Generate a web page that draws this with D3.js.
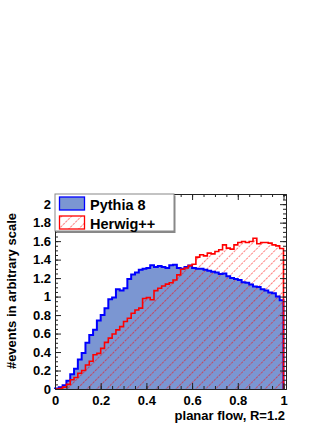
<!DOCTYPE html>
<html>
<head>
<meta charset="utf-8">
<script src="https://cdn.jsdelivr.net/npm/d3@7"></script>
<style>
  body { margin: 0; background: #fff; }
  text { font-family: "Liberation Sans", Arial, sans-serif; font-weight: bold; }
</style>
</head>
<body>
<div id="chart"></div>
<script>
// 60 bins over planar flow 0..1
const binCount = 60;

const pythia = [
  0.005, 0.02, 0.04, 0.09, 0.16, 0.22, 0.32, 0.39, 0.50, 0.585,
  0.64, 0.74, 0.80, 0.875, 0.97, 0.99, 1.08, 1.065, 1.09, 1.19,
  1.24, 1.26, 1.29, 1.30, 1.31, 1.34, 1.32, 1.33, 1.32, 1.31,
  1.34, 1.345, 1.31, 1.30, 1.32, 1.335, 1.31, 1.30, 1.30, 1.29,
  1.28, 1.27, 1.26, 1.245, 1.25, 1.22, 1.20, 1.19, 1.18, 1.155,
  1.15, 1.13, 1.11, 1.105, 1.08, 1.065, 1.045, 1.035, 1.00, 0.96
];

const herwig = [
  0.0, 0.005, 0.02, 0.05, 0.10, 0.125, 0.17, 0.20, 0.26, 0.30,
  0.37, 0.385, 0.44, 0.505, 0.55, 0.595, 0.64, 0.675, 0.73, 0.765,
  0.82, 0.855, 0.875, 0.98, 0.99, 0.965, 1.065, 1.09, 1.115, 1.135,
  1.15, 1.18, 1.235, 1.295, 1.31, 1.335, 1.35, 1.427, 1.452, 1.441,
  1.47, 1.462, 1.488, 1.506, 1.56, 1.524, 1.514, 1.56, 1.585, 1.596,
  1.585, 1.596, 1.632, 1.571, 1.585, 1.585, 1.578, 1.56, 1.549, 1.52
];

const xTicks = [0, 0.2, 0.4, 0.6, 0.8, 1];
const yTicks = [0, 0.2, 0.4, 0.6, 0.8, 1, 1.2, 1.4, 1.6, 1.8, 2];
const legendLabels = ["Pythia 8", "Herwig++"];

const width = 332, height = 430;
const mLeft = 55, mRight = 286, mTop = 194, mBottom = 389;

const svg = d3.select("#chart")
  .append("svg")
  .attr("width", width)
  .attr("height", height);

const defs = svg.append("defs");
defs.append("pattern")
  .attr("id", "hatch")
  .attr("patternUnits", "userSpaceOnUse")
  .attr("width", 7)
  .attr("height", 7)
  .attr("patternTransform", "rotate(45)")
  .append("line")
  .attr("x1", 0).attr("y1", 0)
  .attr("x2", 0).attr("y2", 7)
  .attr("stroke", "#ff0000")
  .attr("stroke-width", 1)
  .attr("stroke-dasharray", "2.5,1");

const x = d3.scaleLinear().domain([0, 1.011]).range([mLeft, mRight]);
const y = d3.scaleLinear().domain([0, 2.11]).range([mBottom, mTop]);

function stepPoints(vals) {
  const pts = [{ x: 0, y: 0 }];
  vals.forEach((v, i) => pts.push({ x: i / binCount, y: v }));
  pts.push({ x: 1, y: vals[vals.length - 1] });
  pts.push({ x: 1, y: 0 });
  return pts;
}

const area = d3.area()
  .curve(d3.curveStepAfter)
  .x(d => x(d.x))
  .y0(y(0))
  .y1(d => y(d.y));

const line = d3.line()
  .curve(d3.curveStepAfter)
  .x(d => x(d.x))
  .y(d => y(d.y));

const pPts = stepPoints(pythia);
const hPts = stepPoints(herwig);

svg.append("path").attr("d", area(pPts)).attr("fill", "#7b96d2");
svg.append("path").attr("d", area(hPts)).attr("fill", "url(#hatch)");
svg.append("path").attr("d", line(pPts))
  .attr("fill", "none").attr("stroke", "#0000ff").attr("stroke-width", 2);
svg.append("path").attr("d", line(hPts))
  .attr("fill", "none").attr("stroke", "#ff0000").attr("stroke-width", 1.6);

// axes
const fmt = d => String(+d.toFixed(1));
const xMinor = d3.range(0, 1.0001, 0.05);
const yMinor = d3.range(0, 2.101, 0.05);

function styleAxis(g) {
  g.selectAll("path").attr("stroke", "#222");
  g.selectAll("line").attr("stroke", "#222");
  g.selectAll("text").attr("fill", "#000").style("font-size", "13px")
    .style("font-family", "'Liberation Sans', Arial, sans-serif").style("font-weight", "bold");
}

svg.append("g").attr("transform", `translate(0,${mBottom})`)
  .call(d3.axisBottom(x).tickValues(xMinor).tickSize(-3).tickSizeOuter(0).tickFormat(""))
  .call(styleAxis);
svg.append("g").attr("transform", `translate(0,${mBottom})`)
  .call(d3.axisBottom(x).tickValues(xTicks).tickSize(-6).tickSizeOuter(0).tickPadding(7).tickFormat(fmt))
  .call(styleAxis);

svg.append("g").attr("transform", `translate(0,${mTop})`)
  .call(d3.axisTop(x).tickValues(xMinor).tickSize(-3).tickSizeOuter(0).tickFormat(""))
  .call(styleAxis);
svg.append("g").attr("transform", `translate(0,${mTop})`)
  .call(d3.axisTop(x).tickValues(xTicks).tickSize(-6).tickSizeOuter(0).tickFormat(""))
  .call(styleAxis);

svg.append("g").attr("transform", `translate(${mLeft},0)`)
  .call(d3.axisLeft(y).tickValues(yMinor).tickSize(-3).tickSizeOuter(0).tickFormat(""))
  .call(styleAxis);
svg.append("g").attr("transform", `translate(${mLeft},0)`)
  .call(d3.axisLeft(y).tickValues(yTicks).tickSize(-6).tickSizeOuter(0).tickPadding(4).tickFormat(fmt))
  .call(styleAxis);

svg.append("g").attr("transform", `translate(${mRight},0)`)
  .call(d3.axisRight(y).tickValues(yMinor).tickSize(-3).tickSizeOuter(0).tickFormat(""))
  .call(styleAxis);
svg.append("g").attr("transform", `translate(${mRight},0)`)
  .call(d3.axisRight(y).tickValues(yTicks).tickSize(-6).tickSizeOuter(0).tickFormat(""))
  .call(styleAxis);

// titles
svg.append("text")
  .attr("x", mRight - 1)
  .attr("y", 420)
  .attr("text-anchor", "end")
  .style("font-size", "13px")
  .text("planar flow, R=1.2");

svg.append("text")
  .attr("transform", "rotate(-90)")
  .attr("x", -213)
  .attr("y", 16)
  .attr("text-anchor", "end")
  .style("font-size", "13px")
  .text("#events in arbitrary scale");

// legend
const legend = svg.append("g");
legend.append("rect")
  .attr("x", mLeft + 1.5).attr("y", mTop + 1.5)
  .attr("width", 119).attr("height", 37.5)
  .attr("fill", "#888");
legend.append("rect")
  .attr("x", mLeft).attr("y", mTop)
  .attr("width", 119).attr("height", 37)
  .attr("fill", "#fff")
  .attr("stroke", "#888")
  .attr("stroke-width", 1);

const legendFills = ["#7b96d2", "url(#hatch)"];
const legendStrokes = ["#0000ff", "#ff0000"];
legendLabels.forEach((lab, i) => {
  const yy = mTop + 3 + i * 19;
  legend.append("rect")
    .attr("x", 59.5).attr("y", yy)
    .attr("width", 25).attr("height", 13)
    .attr("fill", legendFills[i])
    .attr("stroke", legendStrokes[i])
    .attr("stroke-width", 1.3);
  legend.append("text")
    .attr("x", 90)
    .attr("y", yy + 12.5)
    .style("font-size", "14.5px")
    .text(lab);
});
</script>
</body>
</html>
